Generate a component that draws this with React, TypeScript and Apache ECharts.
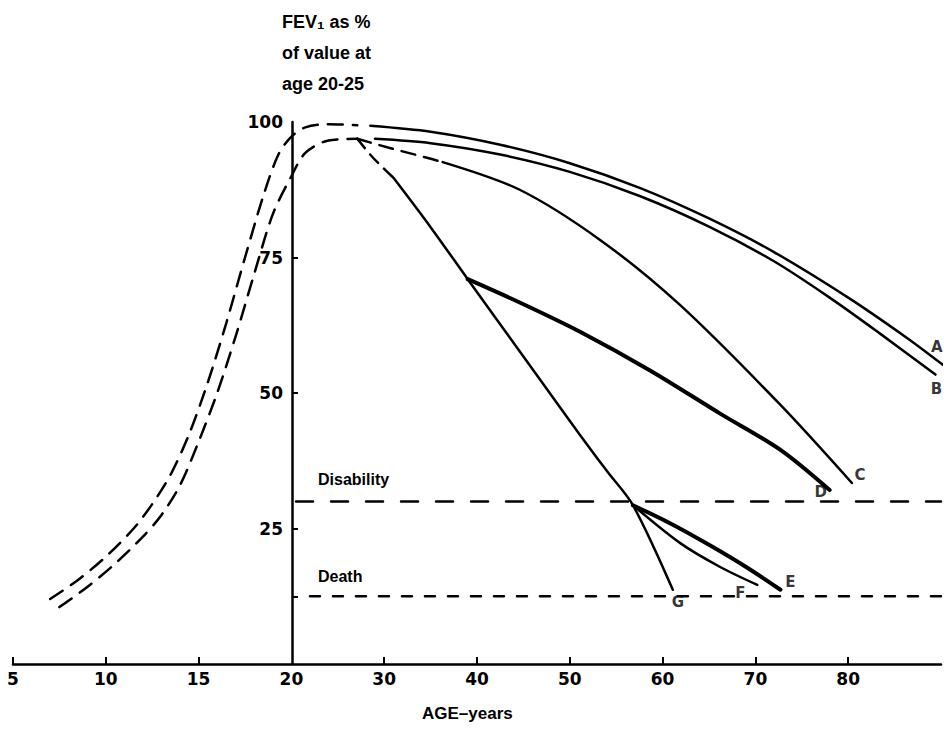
import React, { useEffect, useRef } from 'react';
import * as echarts from 'echarts';

// ---------- data (age in years, FEV1 as % of value at age 20-25) ----------
const xTickAges = [5, 10, 15, 20, 30, 40, 50, 60, 70, 80];
const xTickLabels = ['5', '10', '15', '20', '30', '40', '50', '60', '70', '80'];
const yLabelValues = [25, 50, 75, 100];
const yTickValues = [12.5, 25, 50, 75];

const growthOuter: number[][] = [
  [7.0, 12.0], [8.5, 15.5], [10.0, 19.8], [11.5, 25.0], [12.5, 29.5], [13.5, 35.0], [14.5, 42.5],
  [15.5, 52.0], [16.5, 63.0], [17.5, 75.0], [18.5, 86.5], [19.3, 94.0], [20.0, 97.3], [21.5, 99.0],
  [24.0, 99.6], [27.1, 99.4],
];
const growthInner: number[][] = [
  [7.5, 10.5], [9.0, 14.2], [10.5, 18.5], [12.0, 23.5], [13.0, 27.5], [14.0, 33.0], [15.0, 41.0],
  [16.0, 50.0], [17.0, 60.5], [18.0, 72.0], [19.0, 83.0], [20.0, 90.0], [21.5, 94.3], [24.0, 96.6],
  [27.1, 96.9],
];
const curveA: number[][] = [
  [28.5, 99.3], [35.0, 98.2], [42.5, 95.8], [50.0, 92.4], [57.6, 87.8], [65.0, 82.2], [72.0, 76.0],
  [80.0, 67.6], [86.3, 60.2], [90.2, 55.2],
];
const curveB: number[][] = [
  [29.0, 96.9], [35.0, 96.1], [42.5, 94.0], [50.0, 90.8], [57.6, 86.3], [65.0, 80.7], [72.0, 74.3],
  [78.0, 67.6], [83.4, 61.0], [89.4, 53.4],
];
const curveCDashed: number[][] = [[27.1, 96.9], [30.6, 95.2], [34.4, 93.5], [36.3, 92.6]];
const curveC: number[][] = [
  [36.3, 92.6], [44.6, 87.5], [53.3, 78.2], [61.9, 66.2], [72.7, 47.8], [80.4, 33.4],
];
const curveGDashed: number[][] = [[27.1, 96.9], [28.8, 93.4], [31.0, 89.7]];
const curveG: number[][] = [
  [31.0, 89.7], [35.0, 80.6], [39.0, 71.0], [43.0, 61.5], [47.0, 52.0], [51.0, 42.5],
  [54.0, 35.6], [56.8, 29.3], [61.1, 13.7],
];
const curveD: number[][] = [
  [39.0, 71.0], [44.6, 66.7], [51.1, 61.3], [58.6, 54.2], [66.2, 46.2], [72.7, 39.5], [78.0, 32.1],
];
const curveE: number[][] = [[56.8, 29.3], [61.0, 25.8], [65.0, 22.0], [69.0, 17.9], [72.7, 13.7]];
const curveF: number[][] = [[56.8, 29.3], [61.9, 22.3], [66.2, 17.9], [70.2, 14.6]];
const disabilityLine: number[][] = [[20.5, 30], [90, 30]];
const deathLine: number[][] = [[22.0, 12.5], [90, 12.5]];

const endLabels = ['A', 'B', 'C', 'D', 'E', 'F', 'G'];

// piecewise age scale of the original figure: 5-20 at 5-year steps, 20-90 at 10-year steps
function ageToU(age: number): number {
  return age <= 20 ? (age - 5) / 5 : 3 + (age - 20) / 10;
}
const conv = (pts: number[][]) => pts.map(([a, v]) => [ageToU(a), v]);

const SANS = '"Liberation Sans", Arial, sans-serif';

export default function App() {
  const ref = useRef<HTMLDivElement>(null);
  useEffect(() => {
    if (!ref.current) return;
    const chart = echarts.init(ref.current, null, { renderer: 'svg' });
    const black = '#000';
    const line = (data: number[][], width: number, dash?: number[], smooth: number = 0.3) => ({
      type: 'line',
      data: conv(data),
      showSymbol: false,
      symbol: 'none',
      smooth,
      clip: false,
      silent: true,
      lineStyle: { color: black, width, type: dash ? dash : 'solid', cap: 'round' },
    });
    const xTickU = xTickAges.map(ageToU);
    const ends = [curveA, curveB, curveC, curveD, curveE, curveF, curveG].map((c) => c[c.length - 1]);
    const offsets = [[-6, -18], [1, 14], [8, -8], [-9, 2], [10, -8], [-17, 8], [5, 12]];

    chart.setOption({
      animation: false,
      backgroundColor: '#fff',
      grid: { left: 13, right: 3, top: 122, bottom: 72 },
      xAxis: {
        type: 'value',
        min: 0,
        max: 10,
        axisLine: { show: true, lineStyle: { color: black, width: 2.5 } },
        axisTick: {
          show: true,
          inside: true,
          length: 7,
          lineStyle: { color: black, width: 2 },
          customValues: xTickU.filter((u) => u !== 3),
        },
        axisLabel: {
          show: true,
          margin: 6,
          customValues: xTickU,
          formatter: (v: number) => {
            const i = xTickU.findIndex((u) => Math.abs(u - v) < 1e-6);
            return i >= 0 ? xTickLabels[i] : '';
          },
          color: black,
          fontFamily: 'DejaVu Sans',
          fontWeight: 'bold',
          fontSize: 17,
        },
        splitLine: { show: false },
      },
      yAxis: {
        type: 'value',
        min: 0,
        max: 100,
        interval: 25,
        offset: -279,
        axisLine: { show: true, lineStyle: { color: black, width: 2.5 } },
        axisTick: {
          show: true,
          inside: true,
          length: 6,
          lineStyle: { color: black, width: 2 },
          customValues: yTickValues,
        },
        axisLabel: {
          show: true,
          margin: 9,
          customValues: yLabelValues,
          color: black,
          fontFamily: 'DejaVu Sans',
          fontWeight: 'bold',
          fontSize: 17,
        },
        splitLine: { show: false },
      },
      graphic: [
        {
          type: 'text',
          left: 282,
          top: 6,
          style: {
            text: 'FEV\u2081 as %\nof value at\nage 20-25',
            font: 'bold 18px ' + SANS,
            lineHeight: 31,
            fill: black,
          },
        },
        {
          type: 'text',
          left: 422,
          top: 705,
          style: { text: 'AGE\u2013years', font: 'bold 17px ' + SANS, fill: black },
        },
        {
          type: 'text',
          left: 318,
          top: 471,
          style: { text: 'Disability', font: 'bold 16px ' + SANS, fill: black },
        },
        {
          type: 'text',
          left: 318,
          top: 568,
          style: { text: 'Death', font: 'bold 16px ' + SANS, fill: black },
        },
      ],
      series: [
        line(growthOuter, 2.5, [15, 10]),
        line(growthInner, 2.5, [15, 10]),
        line(curveA, 2.5),
        line(curveB, 2.5),
        line(curveCDashed, 2.5, [14, 9]),
        line(curveC, 2.5),
        line(curveGDashed, 2.5, [12, 8]),
        line(curveG, 2.5),
        line(curveD, 4),
        line(curveE, 4),
        line(curveF, 2.5),
        line(disabilityLine, 2.5, [17, 18], 0),
        line(deathLine, 2.5, [10, 13], 0),
        {
          type: 'scatter',
          symbol: 'circle',
          symbolSize: 1,
          silent: true,
          clip: false,
          itemStyle: { color: 'rgba(0,0,0,0)' },
          z: 10,
          data: ends.map((p, i) => ({
            value: [ageToU(p[0]), p[1]],
            label: {
              show: true,
              position: 'inside',
              formatter: endLabels[i],
              offset: offsets[i],
              color: '#000',
              fontFamily: 'DejaVu Sans',
              fontWeight: 'bold',
              fontSize: 15,
            },
          })),
        },
      ],
    });
    return () => chart.dispose();
  }, []);
  return (
    <div
      ref={ref}
      style={{ position: 'fixed', left: 0, top: 0, width: 944, height: 736, background: '#fff' }}
    />
  );
}
